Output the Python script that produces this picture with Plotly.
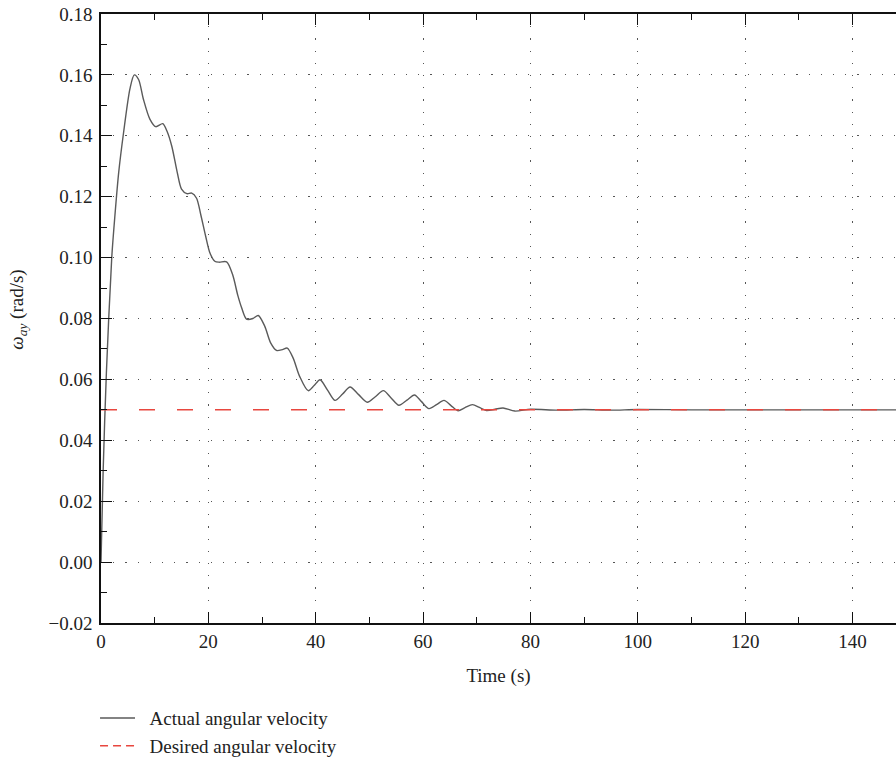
import plotly.graph_objects as go

# Data
time_s = [0, 0.4, 1.0, 2.0, 2.6, 3.3, 4.2, 5.4, 6.2, 7.0, 7.9, 9.1, 10.2, 11.5, 12.3,
          13.2, 14.2, 15.0, 16.0, 16.9, 17.8, 18.6, 19.5, 20.3, 21.2, 22.0, 23.4, 24.5,
          25.5, 26.2, 27.1, 28.3, 29.3, 30.5, 31.6, 32.7, 33.8, 34.7, 35.8, 37.0, 38.6,
          39.7, 40.8, 42.2, 43.6, 45.0, 46.4, 48.0, 49.6, 51.1, 52.6, 54.0, 55.5, 57.0,
          58.4, 59.7, 61.1, 62.5, 63.9, 65.2, 66.5, 67.8, 69.2, 70.5, 71.8, 73.4, 74.9,
          77.1, 80, 85, 90, 95, 100, 110, 120, 130, 140, 148.5]
actual = [0.0, 0.03, 0.062, 0.100, 0.114, 0.128, 0.141, 0.1555, 0.160, 0.1585, 0.152,
          0.1455, 0.143, 0.144, 0.1415, 0.1365, 0.128, 0.1225, 0.121, 0.1212, 0.1195,
          0.114, 0.107, 0.1015, 0.0988, 0.0985, 0.0986, 0.0945, 0.0875, 0.0835, 0.0798,
          0.0800, 0.0810, 0.0775, 0.0720, 0.0695, 0.0698, 0.0703, 0.0670, 0.0610, 0.0563,
          0.0580, 0.0599, 0.0565, 0.0531, 0.0552, 0.0575, 0.0550, 0.0525, 0.0543, 0.0563,
          0.0540, 0.0515, 0.0532, 0.0549, 0.0527, 0.0504, 0.0517, 0.0531, 0.0514, 0.0497,
          0.0507, 0.0517, 0.0508, 0.0498, 0.0502, 0.0506, 0.0496, 0.0502, 0.0499, 0.0501,
          0.0499, 0.0501, 0.0500, 0.0500, 0.0500, 0.0500, 0.0500]
desired_t = [0, 148.5]
desired = [0.05, 0.05]

y_ticks = [-0.02, 0.0, 0.02, 0.04, 0.06, 0.08, 0.10, 0.12, 0.14, 0.16, 0.18]
x_ticks = [0, 20, 40, 60, 80, 100, 120, 140]

FONT = "Liberation Serif"
TXT = "#222"
GAP = "\u2002"

fig = go.Figure()
fig.add_trace(go.Scatter(x=time_s, y=actual, mode="lines", name=GAP + "Actual angular velocity",
                         line=dict(color="#5a5a5a", width=1.4, shape="spline", smoothing=0.8)))
fig.add_trace(go.Scatter(x=desired_t, y=desired, mode="lines", name="Desired angular velocity",
                         showlegend=False,
                         line=dict(color="#e8473f", width=1.5, dash="16px,22px")))
# legend entry for the desired line (shorter dashes as in the reference legend)
fig.add_trace(go.Scatter(x=[None], y=[None], mode="lines", name=GAP + "Desired angular velocity",
                         line=dict(color="#e8473f", width=1.5, dash="8px,5px")))

fig.update_layout(
    width=896, height=761,
    margin=dict(l=101, r=0, t=14, b=138, autoexpand=False),
    paper_bgcolor="white", plot_bgcolor="white",
    font=dict(family=FONT, size=19, color=TXT),
    showlegend=True,
    legend=dict(x=-0.0075, y=-0.125, xanchor="left", yanchor="top",
                bgcolor="rgba(0,0,0,0)", itemwidth=35,
                font=dict(family=FONT, size=19, color=TXT),
                tracegroupgap=0),
    xaxis=dict(range=[0, 148.1], tickvals=x_ticks, ticktext=[str(v) for v in x_ticks],
               ticks="inside", ticklen=11, tickwidth=1.3, tickcolor="#111",
               showline=True, linecolor="#111", linewidth=1.6, mirror="ticks",
               showgrid=True, gridcolor="#555", gridwidth=1, griddash="1.2px,11px",
               zeroline=False,
               minor=dict(dtick=10, tick0=0, ticks="inside", ticklen=6, tickcolor="#111",
                          showgrid=False),
               title=dict(text="Time (s)", standoff=18, font=dict(family=FONT, size=19)),
               tickfont=dict(family=FONT, size=19)),
    yaxis=dict(range=[-0.02, 0.18], tickvals=y_ticks,
               ticktext=[("\u22120.02" if v < 0 else f"{v:.2f}") for v in y_ticks],
               ticks="inside", ticklen=11, tickwidth=1.3, tickcolor="#111",
               ticklabelstandoff=3,
               showline=True, linecolor="#111", linewidth=1.6, mirror=False,
               showgrid=True, gridcolor="#555", gridwidth=1, griddash="1.2px,11px",
               zeroline=False,
               minor=dict(dtick=0.01, tick0=0, ticks="inside", ticklen=6, tickcolor="#111",
                          showgrid=False),
               tickfont=dict(family=FONT, size=19)),
    annotations=[dict(text="<i>ω</i><sub><i>ay</i></sub> (rad/s)", textangle=-90,
                      xref="paper", yref="paper", x=-0.104, y=0.515,
                      xanchor="center", yanchor="middle", showarrow=False,
                      font=dict(family=FONT, size=19, color=TXT))],
)

fig.write_html("out.html")
